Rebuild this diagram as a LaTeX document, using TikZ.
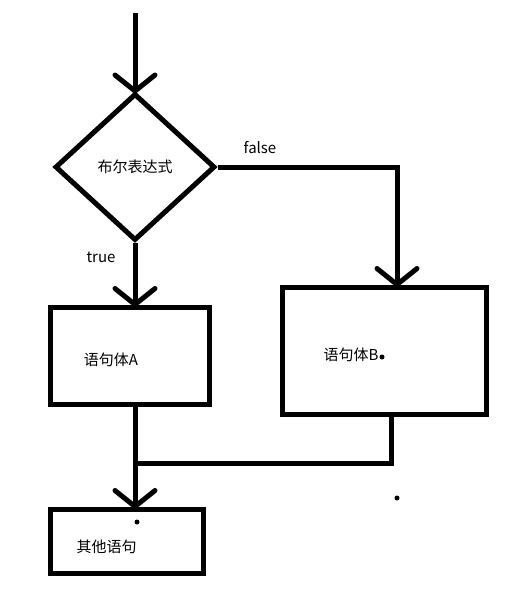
\documentclass[tikz,border=0pt]{standalone}
\usepackage{fontspec}
\setmainfont{Noto Sans CJK SC}
\usetikzlibrary{calc,positioning}
\usetikzlibrary{shapes.geometric}
\usetikzlibrary{decorations.markings}
\tikzset{
  % lijnstijlen
  % gebruik: \draw[flowarrow] (a) -- (b); zet een open pijlpunt bij (b)
  flow/.style={line width=5pt},
  flowarrow/.style={flow,postaction={decorate,decoration={markings,mark=at position 1 with {\draw[line width=5pt,line cap=round]
(-16pt,-20pt) -- (0pt,0pt) -- (-16pt,20pt);}}}},
  % knoopstijlen (blokken, keuze, teksten, losse stipjes)
  block/.style={draw,line width=5pt,inner sep=0pt},
  decision/.style={diamond,draw,line width=5pt,inner sep=0pt,minimum width=160pt,minimum height=147pt,font=\fontsize{15}{17}\selectfont},
  txt/.style={font=\fontsize{15}{17}\selectfont,inner sep=0pt},
  speck/.style={circle,fill=black,inner sep=0pt,minimum size=5pt},
}
\begin{document}
\begin{tikzpicture}[x=1pt,y=-1pt]
  \useasboundingbox (0,0) rectangle (523,592);
  \coordinate (start) at (135,13);
  \node[decision] (cond) at (135,167) {布尔表达式};
  \node[block,minimum width=159pt,minimum height=97pt] (A) at (129.5,355.5) {};
  \node[block,minimum width=204pt,minimum height=127pt] (B) at (384,350.5) {};
  \node[block,minimum width=153pt,minimum height=64pt] (C) at (126.5,541) {};
  \node[txt] (tA) at (111,360) {语句体A};
  \node[txt] (tB) at (351,355) {语句体B};
  \node[txt] (tC) at (106.5,547) {其他语句};
  \node[txt] (lfalse) at (260,148) {false};
  \node[txt] (ltrue) at (101,257) {true};
  \coordinate (join) at (135,463);
  \draw[flowarrow] (start) -- (cond.north);
  \draw[flowarrow] (cond.east) -| ([xshift=13pt]B.north);
  \draw[flowarrow] (cond.south) -- (cond.south |- A.north);
  \draw[flowarrow] (cond.south |- A.south) -- (cond.south |- C.north);
  \draw[flow] ([xshift=7pt]B.south) |- (join);
  \node[speck] (s1) at (382,357) {};
  \node[speck] (s2) at (137,522) {};
  \node[speck] (s3) at (397,498) {};
\end{tikzpicture}
\end{document}
